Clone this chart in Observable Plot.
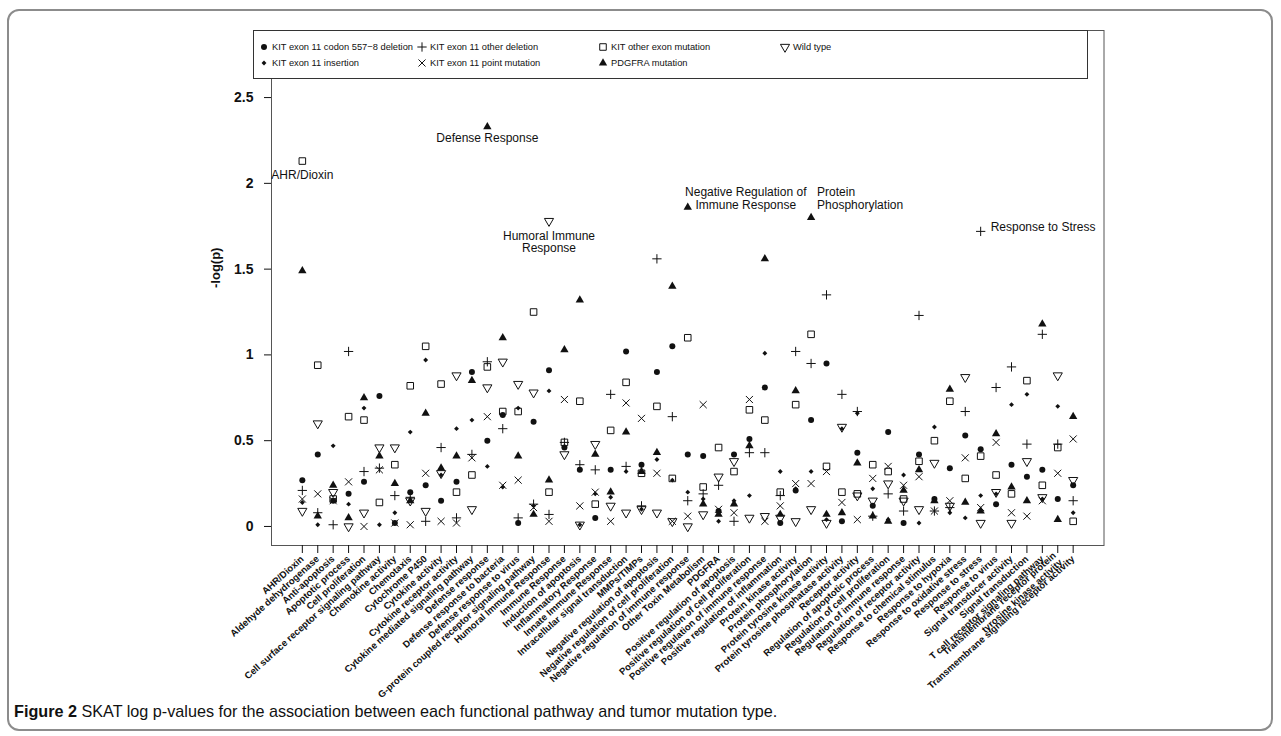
<!DOCTYPE html>
<html><head><meta charset="utf-8">
<script src="https://cdn.jsdelivr.net/npm/d3@7"></script>
<script src="https://cdn.jsdelivr.net/npm/@observablehq/plot@0.6"></script>
<style>
html,body{margin:0;padding:0;background:#fff;}
body{width:1281px;height:736px;position:relative;overflow:hidden;font-family:"Liberation Sans",Arial,Helvetica,sans-serif;color:#111;}
#border{position:absolute;left:7px;top:9px;width:1266px;height:722px;border:2px solid #8c8c8c;border-radius:12px;box-sizing:border-box;}
#chart{position:absolute;left:0;top:0;}
#legend{position:absolute;left:253px;top:30px;width:835px;height:49px;border:1px solid #333;box-sizing:border-box;background:#fff;}
.li{position:absolute;font-size:9.3px;white-space:nowrap;line-height:12px;height:12px;}
.li svg{position:absolute;left:-5px;top:1px;}
.li span{position:absolute;left:8px;top:0;}
#caption{position:absolute;left:14px;top:702px;font-size:16.2px;white-space:nowrap;}
</style></head><body>
<div id="border"></div>
<div id="chart"></div>
<div id="legend"></div>
<div id="caption"><b>Figure 2</b> SKAT log p-values for the association between each functional pathway and tumor mutation type.</div>
<script>
const categories = [
  "AHR/Dioxin","Aldehyde dehydrogenase","Anti-apoptosis","Apoptotic process","Cell proliferation",
  "Cell surface receptor signaling pathway","Chemokine activity","Chemotaxis","Cytochrome P450","Cytokine activity",
  "Cytokine receptor activity","Cytokine mediated signaling pathway","Defense response","Defense response to bacteria","Defense response to virus",
  "G-protein coupled receptor signaling pathway","Humoral Immune Response","Immune Response","Induction of apoptosis","Inflammatory Response",
  "Innate Immune Response","Intracellular signal transduction","MMPs/TIMPs","Negative regulation of apoptosis","Negative regulation of cell proliferation",
  "Negative regulation of immune response","Other Toxin Metabolism","PDGFRA","Positive regulation of apoptosis","Positive regulation of cell proliferation",
  "Positive regulation of immune response","Positive regulation of inflammation","Protein kinase activity","Protein phosphorylation","Protein tyrosine kinase activity",
  "Protein tyrosine phosphatase activity","Receptor activity","Regulation of apoptotic process","Regulation of cell proliferation","Regulation of immune response",
  "Regulation of receptor activity","Response to chemical stimulus","Response to hypoxia","Response to oxidative stress","Response to stress",
  "Response to virus","Signal transducer activity","Signal transduction","T cell receptor signaling pathway","Transmembrane receptor protein\ntyrosine kinase activity",
  "Transmembrane signaling receptor activity"
];

// KIT exon 11 codon 557-8 deletion (filled circle)
const codonDel = [0.27,0.42,0.15,0.19,0.26,0.76,0.02,0.20,0.24,0.15,
  0.26,0.90,0.50,0.65,0.02,0.61,0.91,0.46,0.33,0.05,
  0.33,1.02,0.36,0.90,1.05,0.42,0.41,0.09,0.42,0.51,
  0.81,0.02,0.21,0.62,0.95,0.03,0.43,0.12,0.55,0.02,
  0.42,0.16,0.34,0.53,0.45,0.13,0.36,0.29,0.33,0.16,0.24];
// KIT exon 11 other deletion (plus)
const otherDel = [0.21,0.08,0.01,1.02,0.32,0.34,0.18,0.17,0.03,0.46,
  0.05,0.42,0.96,0.57,0.05,0.13,0.07,0.49,0.36,0.33,
  0.77,0.35,0.12,1.56,0.64,0.15,0.19,0.24,0.03,0.43,
  0.43,0.18,1.02,0.95,1.35,0.77,0.67,0.06,0.19,0.09,
  1.23,0.09,0.11,0.67,1.72,0.81,0.93,0.48,1.12,0.48,0.15];
// KIT other exon mutation (open square)
const otherExon = [2.13,0.94,0.16,0.64,0.62,0.14,0.36,0.82,1.05,0.83,
  0.20,0.30,0.93,0.67,0.67,1.25,0.20,0.49,0.73,0.13,
  0.56,0.84,0.31,0.70,0.28,1.10,0.23,0.46,0.32,0.68,
  0.62,0.20,0.71,1.12,0.35,0.20,0.19,0.36,0.32,0.16,
  0.38,0.50,0.73,0.28,0.41,0.30,0.19,0.85,0.24,0.46,0.03];
// Wild type (open down triangle)
const wildType = [0.09,0.60,0.20,0.00,0.08,0.46,0.46,0.15,0.09,0.31,
  0.88,0.10,0.81,0.96,0.83,0.78,1.78,0.42,0.01,0.48,
  0.12,0.08,0.10,0.08,0.03,0.00,0.07,0.29,0.38,0.05,
  0.06,0.05,0.03,0.10,0.02,0.58,0.18,0.15,0.25,0.15,
  0.10,0.37,0.12,0.87,0.02,0.20,0.02,0.38,0.17,0.88,0.27];
// KIT exon 11 insertion (small filled diamond)
const insertion = [0.14,0.01,0.47,0.13,0.69,0.01,0.08,0.55,0.97,0.30,
  0.57,0.62,0.35,0.23,0.69,0.12,0.79,0.46,0.01,0.19,
  0.17,0.32,0.10,0.39,0.27,0.20,0.16,0.03,0.15,0.18,
  1.01,0.32,0.22,0.32,0.04,0.57,0.66,0.22,0.04,0.30,
  0.02,0.58,0.08,0.05,0.18,0.19,0.71,0.77,0.16,0.70,0.08];
// KIT exon 11 point mutation (times)
const pointMut = [0.16,0.19,0.15,0.26,0.00,0.33,0.02,0.01,0.31,0.03,
  0.02,0.40,0.64,0.24,0.27,0.11,0.03,0.74,0.12,0.20,
  0.03,0.72,0.63,0.31,0.03,0.06,0.71,0.10,0.08,0.74,
  0.03,0.12,0.25,0.25,0.32,0.14,0.04,0.28,0.35,0.24,
  0.29,0.09,0.15,0.40,0.11,0.49,0.08,0.06,0.15,0.31,0.51];
// PDGFRA mutation (filled up triangle)
const pdgfra = [1.49,0.06,0.24,0.05,0.75,0.41,0.25,0.15,0.66,0.34,
  0.41,0.85,2.33,1.10,0.41,0.07,0.27,1.03,1.32,0.42,
  0.20,0.55,0.32,0.43,1.40,1.86,0.13,0.07,0.13,0.47,
  1.56,0.07,0.79,1.80,0.07,0.08,0.37,0.06,0.03,0.21,
  0.33,0.15,0.80,0.14,0.09,0.54,0.23,0.15,1.18,0.04,0.64];

const yTicks = [0, 0.5, 1, 1.5, 2, 2.5];

const invTriangle = {
  draw(context, size) {
    const y = Math.sqrt(size / (Math.sqrt(3) * 3));
    context.moveTo(0, 2 * y);
    context.lineTo(-Math.sqrt(3) * y, -y);
    context.lineTo(Math.sqrt(3) * y, -y);
    context.closePath();
  }
};
const symbolTypes = {circle: d3.symbolCircle, plus: d3.symbolPlus, square: d3.symbolSquare, diamond2: d3.symbolDiamond2, times: d3.symbolTimes, triangle: d3.symbolTriangle};

const series = [
  {name: "KIT exon 11 codon 557\u22128 deletion", values: codonDel, symbol: "circle", filled: true, r: 3},
  {name: "KIT exon 11 insertion", values: insertion, symbol: "diamond2", filled: true, r: 2.2},
  {name: "KIT exon 11 other deletion", values: otherDel, symbol: "plus", filled: false, r: 3.1},
  {name: "KIT exon 11 point mutation", values: pointMut, symbol: "times", filled: false, r: 3.3},
  {name: "KIT other exon mutation", values: otherExon, symbol: "square", filled: false, r: 3.7},
  {name: "PDGFRA mutation", values: pdgfra, symbol: "triangle", filled: true, r: 3.1},
  {name: "Wild type", values: wildType, symbol: invTriangle, filled: false, r: 3.4}
];

const annotations = [
  {i: 0, values: otherExon, label: "AHR/Dioxin", anchor: "middle", dx: 0, dy: 14},
  {i: 12, values: pdgfra, label: "Defense Response", anchor: "middle", dx: 0, dy: 11},
  {i: 16, values: wildType, label: "Humoral Immune\nResponse", anchor: "middle", dx: 0, dy: 21},
  {i: 25, values: pdgfra, label: "Negative Regulation of\nImmune Response", anchor: "middle", dx: 58, dy: -9},
  {i: 33, values: pdgfra, label: "Protein\nPhosphorylation", anchor: "start", dx: 6, dy: -19},
  {i: 44, values: otherDel, label: "Response to Stress", anchor: "start", dx: 10, dy: -4}
];

const ink = "#111";
const marks = [
  Plot.frame({stroke: "#555", strokeWidth: 1}),
  Plot.axisX({ticks: d3.range(categories.length), tickFormat: i => categories[i], tickRotate: -42,
    tickSize: 8, tickPadding: 4, fontSize: 9.5, fontWeight: "bold", label: null, lineHeight: 1}),
  Plot.axisY({ticks: yTicks, tickFormat: d => String(d), tickSize: 7, tickPadding: 11,
    fontSize: 14, fontWeight: "bold", label: null}),
  Plot.text(["-log(p)"], {frameAnchor: "left", dx: -56, rotate: -90, fontSize: 13, fontWeight: "bold", fill: ink})
];
for (const s of series) {
  const rows = s.values.map((v, i) => ({i, v}));
  marks.push(Plot.dot(rows, {x: "i", y: "v", r: s.r, symbol: s.symbol,
    fill: s.filled ? ink : "none", stroke: s.filled ? "none" : ink, strokeWidth: 1}));
}
for (const a of annotations) {
  marks.push(Plot.text([a], {x: "i", y: d => d.values[d.i], text: "label", textAnchor: a.anchor,
    dx: a.dx, dy: a.dy, fontSize: 12, lineHeight: 1.05, fill: ink}));
}

const chart = Plot.plot({
  width: 1281, height: 700,
  marginLeft: 271, marginRight: 177.5, marginTop: 30, marginBottom: 155,
  x: {type: "linear", domain: [-2, 52], axis: null},
  y: {type: "linear", domain: [-0.111, 2.891], axis: null},
  style: {fontFamily: "'Liberation Sans', Arial, Helvetica, sans-serif", color: ink, background: "transparent", overflow: "visible"},
  marks
});
document.getElementById("chart").appendChild(chart);

// legend (R-style, filled by column)
const legend = document.getElementById("legend");
const colX = [10, 168, 349, 531];
const rowY = [10, 26];
series.forEach((s, k) => {
  const col = Math.floor(k / 2), row = k % 2;
  const type = typeof s.symbol === "string" ? symbolTypes[s.symbol] : s.symbol;
  const size = Math.PI * s.r * s.r;
  const d = d3.symbol(type, size)();
  const el = document.createElement("div");
  el.className = "li";
  el.style.left = colX[col] + "px";
  el.style.top = rowY[row] + "px";
  el.innerHTML = `<svg width="10" height="10" viewBox="-5 -5 10 10" style="overflow:visible"><path d="${d}" fill="${s.filled ? ink : "none"}" stroke="${s.filled ? "none" : ink}" stroke-width="1"/></svg><span>${s.name}</span>`;
  legend.appendChild(el);
});
</script>
</body></html>
